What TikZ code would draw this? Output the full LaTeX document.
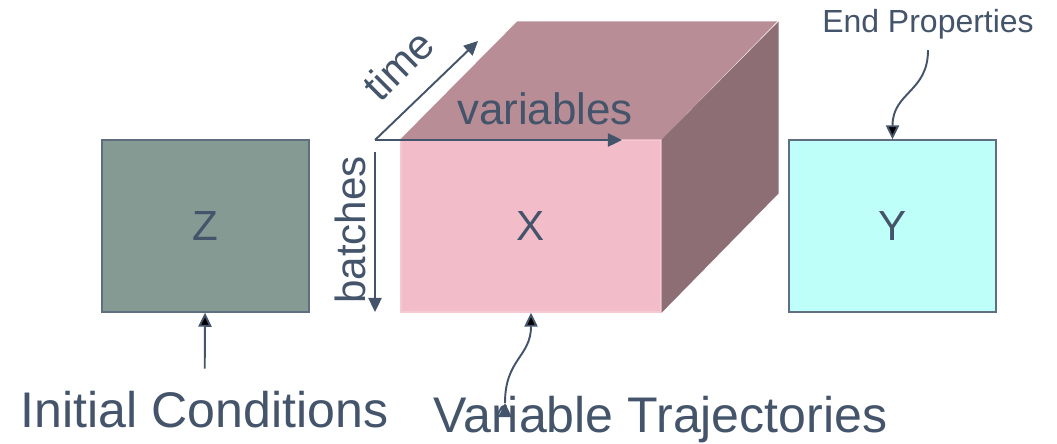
\documentclass[tikz,border=0pt]{standalone}
\usepackage{fontspec}
\setmainfont{Liberation Sans}
\usepackage{xcolor}
\usetikzlibrary{arrows.meta}
\usetikzlibrary{positioning}
\definecolor{ink}{HTML}{44546A}
\definecolor{zgreen}{HTML}{869A94}
\definecolor{xfront}{HTML}{F2BDC9}
\definecolor{xedge}{HTML}{F6C8D2}
\definecolor{xtop}{HTML}{B88D96}
\definecolor{xside}{HTML}{8C6E74}
\definecolor{ycyan}{HTML}{BFFFFA}

\begin{document}
\begin{tikzpicture}[
			     x=0.02cm, y=-0.02cm,
			     every node/.style={text=ink, font=\fontsize{24pt}{28pt}\selectfont},
			     block/.style={draw=ink!85, line width=0.8pt, inner sep=0pt,
			                   minimum width=4.14cm, minimum height=3.44cm},
			     axis label/.style={inner sep=0pt},
			     caption/.style={font=\fontsize{28.5pt}{32pt}\selectfont, anchor=base},
			     small caption/.style={font=\fontsize{18.2pt}{22pt}\selectfont, anchor=base},
			     axis line/.style={draw=ink, line width=1.1pt, -{Triangle[length=8pt,width=7.5pt]}},
			     pointer/.style={draw=ink, line width=1.1pt, -{Triangle[length=8pt,width=7.5pt]}}
			     ]
\useasboundingbox (0,0) rectangle (1057,443);
%
% the three data blocks
\node[block, fill=zgreen] (z) at (205.5,226) {Z};
\node[block, draw=xedge, fill=xfront, minimum width=5.2cm] (x) at (531,226) {X};
\node[block, fill=ycyan] (y) at (892.5,226) {Y};
%
% depth of the X block
\fill[xtop] (x.north west) -- ++(117,-118) -- ++(260,0) -- (x.north east) -- cycle;
\fill[xside] (x.north east) -- ++(117,-118) -- ++(0,172) -- (x.south east) -- cycle;
%
% axes of the X block
\coordinate (origin) at (375,140);
\coordinate (time end) at (478,41);
\coordinate (var end) at (622,140);
\coordinate (batch top) at (375,152);
\coordinate (batch end) at (375,312);
\path[axis line] (origin) -- (time end);
\path[axis line] (origin) -- (var end);
\path[axis line] (batch top) -- (batch end);
\node[axis label, rotate=45] (timelbl) at (398,65) {time};
\node[axis label, font=\fontsize{25pt}{29pt}\selectfont] (varlbl) at (545,109) {variables};
\node[axis label, rotate=90] (batchlbl) at (350,230) {batches};
%
% captions
\node[caption] (ic) at (204.5,427) {Initial Conditions};
\node[caption] (vt) at (660.5,432) {Variable Trajectories};
\node[small caption] (ep) at (928,32) {End Properties};
\coordinate (vt tail) at (505,403);
%
\path[pointer] (ic) edge[shorten <=9pt] (z);
\path[pointer] (vt tail) edge[out=90, in=-90, looseness=1.2] (x);
\path[pointer] (ep) edge[out=-90, in=90, looseness=1.2, shorten <=3pt] (y);
\end{tikzpicture}
\end{document}
